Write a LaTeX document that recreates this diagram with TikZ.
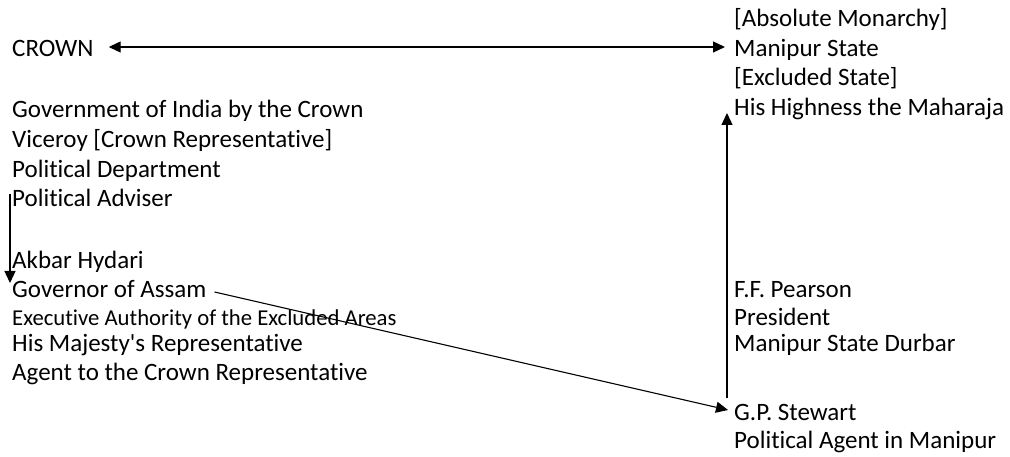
\documentclass[tikz,border=0pt]{standalone}
\usepackage{fontspec}
\setmainfont[Ligatures={NoCommon}]{Carlito}
\usetikzlibrary{arrows.meta}
\tikzset{
  txt/.style={anchor=base west, inner sep=0pt, font=\fontsize{25}{30}\selectfont},
  smalltxt/.style={anchor=base west, inner sep=0pt, font=\fontsize{22.7}{27}\selectfont},
  conn/.style={line width=1.3pt, -{Triangle[length=12pt,width=11pt]}},
  conn2/.style={line width=1.3pt, {Triangle[length=12pt,width=11pt]}-{Triangle[length=12pt,width=11pt]}},
  conn0/.style={line width=1.1pt, -{Triangle[length=12pt,width=11pt]}}
}
\begin{document}
\begin{tikzpicture}[x=1pt,y=-1pt]
\useasboundingbox (0,0) rectangle (1010,457);
% left column
\node[txt] (crown) at (12,57) {CROWN};
\node[txt] (goi) at (12,118) {Government of India by the Crown};
\node[txt] (vic) at (12,148) {Viceroy [Crown Representative]};
\node[txt] (pd) at (12,178) {Political Department};
\node[txt] (padv) at (12,207) {Political Adviser};
\node[txt] (akbar) at (12,269) {Akbar Hydari};
\node[txt] (gov) at (12,298) {Governor of Assam};
\node[smalltxt] (exec) at (12,325) {Executive Authority of the Excluded Areas};
\node[txt] (hmr) at (12,352) {His Majesty\textquotesingle s Representative};
\node[txt] (agent) at (12,380) {Agent to the Crown Representative};
% right column
\node[txt] (abs) at (734,27) {[Absolute Monarchy]};
\node[txt] (manip) at (734,57) {Manipur State};
\node[txt] (excl) at (734,86) {[Excluded State]};
\node[txt] (hh) at (734,116) {His Highness the Maharaja};
\node[txt] (ffp) at (734,298) {F.F. Pearson};
\node[txt] (pres) at (734,325) {President};
\node[txt] (durbar) at (734,352) {Manipur State Durbar};
\node[txt] (gps) at (734,420) {G.P. Stewart};
\node[txt] (pam) at (734,448) {Political Agent in Manipur};
% connectors
\draw[conn2] ([xshift=15pt,yshift=10pt]crown.base east) -- ([xshift=-9pt,yshift=10pt]manip.base west);
\draw[conn] ([xshift=-2pt,yshift=13pt]padv.base west) -- ([xshift=-2pt,yshift=-14pt]akbar.base west);
\draw[conn0] ([xshift=8pt,yshift=6pt]gov.base east) -- ([xshift=-6pt,yshift=10pt]gps.base west);
\draw[conn] ([xshift=-7pt,yshift=22pt]gps.base west) -- ([xshift=-7pt,yshift=3pt]hh.base west);
\end{tikzpicture}
\end{document}
